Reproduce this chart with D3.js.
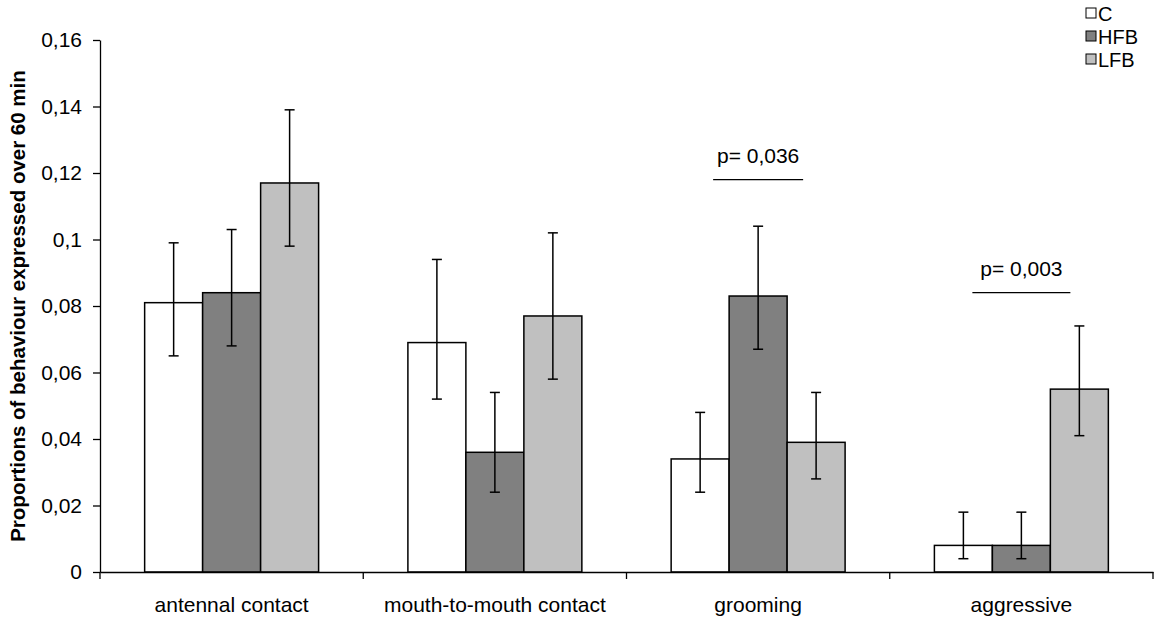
<!DOCTYPE html>
<html>
<head>
<meta charset="utf-8">
<script src="https://cdnjs.cloudflare.com/ajax/libs/d3/7.8.5/d3.min.js"></script>
<style>
  body { margin: 0; background: #fff; }
  svg { font-family: "Liberation Sans", Arial, sans-serif; }
</style>
</head>
<body>
<svg id="chart" width="1173" height="619"></svg>
<script>
// data
const categories = ["antennal contact", "mouth-to-mouth contact", "grooming", "aggressive"];
const groups = ["C", "HFB", "LFB"];
const colours = ["#ffffff", "#808080", "#c0c0c0"];

const meanC   = [0.081, 0.069, 0.034, 0.008];
const meanHFB = [0.084, 0.036, 0.083, 0.008];
const meanLFB = [0.117, 0.077, 0.039, 0.055];

const lowC    = [0.065, 0.052, 0.024, 0.004];
const highC   = [0.099, 0.094, 0.048, 0.018];
const lowHFB  = [0.068, 0.024, 0.067, 0.004];
const highHFB = [0.103, 0.054, 0.104, 0.018];
const lowLFB  = [0.098, 0.058, 0.028, 0.041];
const highLFB = [0.139, 0.102, 0.054, 0.074];

const yTicks = [0, 0.02, 0.04, 0.06, 0.08, 0.1, 0.12, 0.14, 0.16];

// significance brackets: category, level of line, label
const sigCats = ["grooming", "aggressive"];
const sigLevel = [0.118, 0.084];
const sigText = ["p= 0,036", "p= 0,003"];

const means = [meanC, meanHFB, meanLFB];
const lows = [lowC, lowHFB, lowLFB];
const highs = [highC, highHFB, highLFB];

let rows = [];
categories.forEach(function(c, i){
  groups.forEach(function(g, j){
    rows.push({cat: c, grp: g, v: means[j][i], lo: lows[j][i], hi: highs[j][i], col: colours[j]});
  });
});

const svg = d3.select("#chart");
const mLeft = 100, mRight = 1153, mTop = 40, mBottom = 572;
const fs = "21px";

const x = d3.scaleBand().domain(categories).range([mLeft, mRight]).paddingInner(0).paddingOuter(0);
const xIn = d3.scaleBand().domain(groups).range([0, x.bandwidth()]).paddingOuter(0.77).paddingInner(0);
const y = d3.scaleLinear().domain([0, 0.16]).range([mBottom, mTop]);

// bars
svg.selectAll("rect.bar")
  .data(rows).enter()
  .append("rect")
    .attr("class", "bar")
    .attr("x", function(d){ return x(d.cat) + xIn(d.grp) })
    .attr("y", function(d){ return y(d.v) })
    .attr("width", xIn.bandwidth())
    .attr("height", function(d){ return y(0) - y(d.v) })
    .attr("fill", function(d){ return d.col })
    .attr("stroke", "#000")
    .attr("stroke-width", 1.5)

// error bars
const cx = function(d){ return x(d.cat) + xIn(d.grp) + xIn.bandwidth() / 2 };
const err = svg.append("g").attr("stroke", "#000").attr("stroke-width", 1.5);
err.selectAll("line.v")
  .data(rows).enter()
  .append("line")
    .attr("x1", cx).attr("x2", cx)
    .attr("y1", function(d){ return y(d.lo) })
    .attr("y2", function(d){ return y(d.hi) })
err.selectAll("line.top")
  .data(rows).enter()
  .append("line")
    .attr("x1", function(d){ return cx(d) - 5 }).attr("x2", function(d){ return cx(d) + 5 })
    .attr("y1", function(d){ return y(d.hi) }).attr("y2", function(d){ return y(d.hi) })
err.selectAll("line.bot")
  .data(rows).enter()
  .append("line")
    .attr("x1", function(d){ return cx(d) - 5 }).attr("x2", function(d){ return cx(d) + 5 })
    .attr("y1", function(d){ return y(d.lo) }).attr("y2", function(d){ return y(d.lo) })

// y axis
const yAxis = d3.axisLeft(y).tickValues(yTicks).tickSize(7).tickSizeOuter(0)
  .tickFormat(function(d){ return d3.format("~g")(d).replace(".", ",") });
const gy = svg.append("g").attr("transform", "translate(" + mLeft + ",0)").call(yAxis);
gy.select(".domain").attr("stroke", "#000").attr("stroke-width", 1.3);
gy.selectAll(".tick line").attr("stroke", "#000").attr("stroke-width", 1.3);
gy.selectAll(".tick text").attr("font-size", fs).attr("fill", "#000").attr("x", -18);

// x axis
const xAxis = d3.axisBottom(x).tickSize(0).tickSizeOuter(0);
const gx = svg.append("g").attr("transform", "translate(0," + mBottom + ")").call(xAxis);
gx.select(".domain").attr("stroke", "#000").attr("stroke-width", 1.3);
gx.selectAll(".tick text").attr("font-size", fs).attr("fill", "#000").attr("y", 40).attr("dy", 0);
svg.selectAll("line.sep")
  .data(categories.concat(["end"])).enter()
  .append("line")
    .attr("x1", function(d){ return d == "end" ? mRight : x(d) })
    .attr("x2", function(d){ return d == "end" ? mRight : x(d) })
    .attr("y1", mBottom).attr("y2", mBottom + 7)
    .attr("stroke", "#000").attr("stroke-width", 1.3)

// y axis title
svg.append("text")
  .attr("transform", "translate(25," + ((mTop + mBottom) / 2) + ") rotate(-90)")
  .attr("text-anchor", "middle")
  .attr("font-size", "20.5px")
  .attr("font-weight", "bold")
  .text("Proportions of behaviour expressed over 60 min")

// significance
sigCats.forEach(function(c, i){
  let mid = x(c) + xIn("HFB") + xIn.bandwidth() / 2;
  let half = i == 0 ? 45 : 49;
  svg.append("line")
    .attr("x1", mid - half).attr("x2", mid + half)
    .attr("y1", y(sigLevel[i])).attr("y2", y(sigLevel[i]))
    .attr("stroke", "#000").attr("stroke-width", 1.3)
  svg.append("text")
    .attr("x", mid).attr("y", y(sigLevel[i]) - 17)
    .attr("text-anchor", "middle")
    .attr("font-size", fs)
    .text(sigText[i])
});

// legend
const leg = svg.append("g").attr("transform", "translate(1086,8)");
groups.forEach(function(g, i){
  leg.append("rect")
    .attr("x", 0).attr("y", i * 23)
    .attr("width", 10).attr("height", 10)
    .attr("fill", colours[i]).attr("stroke", "#000").attr("stroke-width", 1)
  leg.append("text")
    .attr("x", 12).attr("y", i * 23 + 12.5)
    .attr("font-size", "20px")
    .text(g)
});
</script>
</body>
</html>
